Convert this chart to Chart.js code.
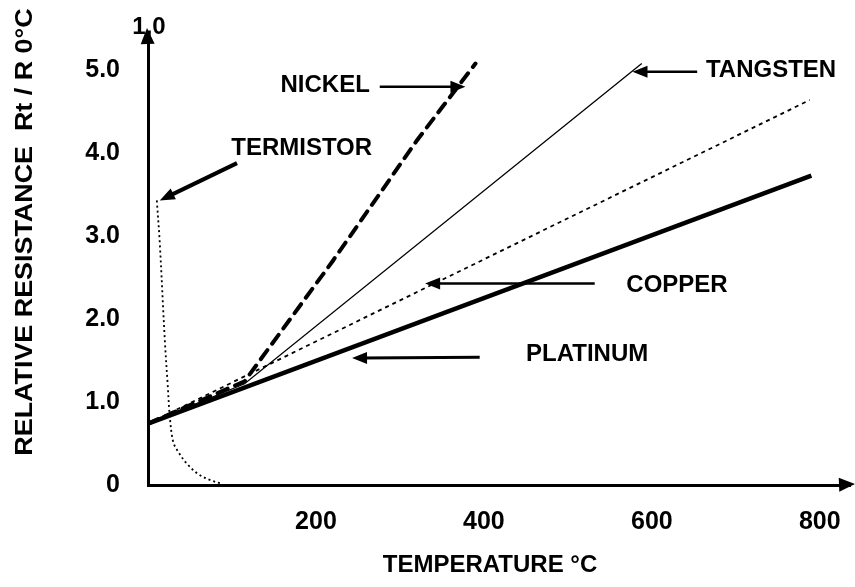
<!DOCTYPE html>
<html>
<head>
<meta charset="utf-8">
<script src="https://cdn.jsdelivr.net/npm/chart.js@4.4.0/dist/chart.umd.min.js"></script>
<style>
  body { margin: 0; background: #fff; }
</style>
</head>
<body>
<canvas id="rtChart" width="855" height="587"></canvas>
<script>
// values: temperature (°C) vs Rt / R0
const platinumT = [0, 790];
const platinumR = [0.74, 3.73];
const copperT = [0, 788];
const copperR = [0.74, 4.64];
const tangstenT = [0, 115, 588];
const tangstenR = [0.74, 1.22, 5.08];
const nickelT = [0, 115, 220, 320, 390];
const nickelR = [0.74, 1.25, 2.7, 4.15, 5.08];
const termistorT = [10.5, 14, 20, 23.5, 26, 30, 36, 46, 60, 74, 86];
const termistorR = [3.43, 2.92, 1.75, 1.2, 0.82, 0.52, 0.4, 0.26, 0.13, 0.06, 0.02];

const xTicks = [200, 400, 600, 800];
const yTicks = [0, 1, 2, 3, 4, 5];
const yTickLabels = ["0", "1.0", "2.0", "3.0", "4.0", "5.0"];

const FONT = "'Liberation Sans', Arial, sans-serif";

// callout labels with arrows, placed in data units
const callouts = [
  { text: "NICKEL",    at: [211, 4.82], from: [276, 4.80], to: [378, 4.80], w: 2.5 },
  { text: "TERMISTOR", at: [183, 4.06], from: [106, 3.88], to: [14, 3.43],  w: 4 },
  { text: "TANGSTEN",  at: [742, 5.00], from: [654, 4.98], to: [577, 4.98], w: 2.5 },
  { text: "COPPER",    at: [630, 2.41], from: [532, 2.43], to: [330, 2.43], w: 2.5 },
  { text: "PLATINUM",  at: [523, 1.58], from: [395, 1.54], to: [243, 1.53], w: 3 }
];

function pts(t, r) {
  return t.map((x, i) => ({ x: x, y: r[i] }));
}

function arrow(ctx, x1, y1, x2, y2, w, len, half) {
  const a = Math.atan2(y2 - y1, x2 - x1);
  const c = Math.cos(a), s = Math.sin(a);
  if (w > 0) {
    ctx.lineWidth = w;
    ctx.beginPath();
    ctx.moveTo(x1, y1);
    ctx.lineTo(x2 - len * 0.7 * c, y2 - len * 0.7 * s);
    ctx.stroke();
  }
  ctx.beginPath();
  ctx.moveTo(x2, y2);
  ctx.lineTo(x2 - len * c - half * s, y2 - len * s + half * c);
  ctx.lineTo(x2 - len * c + half * s, y2 - len * s - half * c);
  ctx.closePath();
  ctx.fill();
}

const drawings = {
  id: "drawings",
  afterDraw(chart) {
    const ctx = chart.ctx;
    const xs = chart.scales.x, ys = chart.scales.y;
    const area = chart.chartArea;
    ctx.save();
    ctx.fillStyle = "#000";
    ctx.strokeStyle = "#000";
    ctx.lineCap = "butt";

    // axis arrow heads
    arrow(ctx, area.left, area.top + 20, area.left - 1, area.top - 4, 0, 16, 7);
    arrow(ctx, area.right - 20, area.bottom, 855, area.bottom - 1, 0, 16, 7);

    ctx.textAlign = "center";
    ctx.textBaseline = "middle";
    ctx.font = "bold 24px " + FONT;
    ctx.fillText("1,0", area.left + 1, 27);

    callouts.forEach(c => {
      ctx.fillText(c.text, xs.getPixelForValue(c.at[0]), ys.getPixelForValue(c.at[1]));
      arrow(ctx,
        xs.getPixelForValue(c.from[0]), ys.getPixelForValue(c.from[1]),
        xs.getPixelForValue(c.to[0]), ys.getPixelForValue(c.to[1]),
        c.w, 15, 6);
    });

    // axis titles
    ctx.fillText("TEMPERATURE °C", 490, 565);
    ctx.translate(25, 232);
    ctx.rotate(-Math.PI / 2);
    ctx.scale(1.12, 1);
    ctx.fillText("RELATIVE RESISTANCE  Rt / R 0°C", 0, 0);
    ctx.restore();
  }
};

new Chart("rtChart", {
  type: "line",
  data: {
    datasets: [
      { label: "PLATINUM", data: pts(platinumT, platinumR), borderColor: "#000", borderWidth: 4.5 },
      { label: "COPPER", data: pts(copperT, copperR), borderColor: "#000", borderWidth: 1.8, borderDash: [4, 4] },
      { label: "TANGSTEN", data: pts(tangstenT, tangstenR), borderColor: "#000", borderWidth: 1.3 },
      { label: "NICKEL", data: pts(nickelT, nickelR), borderColor: "#000", borderWidth: 4, borderDash: [11, 8], borderCapStyle: "round" },
      { label: "TERMISTOR", data: pts(termistorT, termistorR), borderColor: "#000", borderWidth: 1.8, borderDash: [2, 3], tension: 0.35 }
    ]
  },
  options: {
    responsive: false,
    animation: false,
    layout: { padding: { top: 32, right: 5, left: 0, bottom: 0 } },
    elements: { point: { radius: 0 } },
    plugins: {
      legend: { display: false },
      tooltip: { enabled: false }
    },
    scales: {
      x: {
        type: "linear",
        min: 0,
        max: 836,
        afterFit: s => { s.height = 102; s.paddingLeft = 0; s.paddingRight = 0; },
        afterBuildTicks: s => { s.ticks = xTicks.map(v => ({ value: v })); },
        grid: { display: false, drawTicks: false },
        border: { display: true, color: "#000", width: 3 },
        ticks: { color: "#000", font: { family: FONT, size: 25, weight: "bold" }, padding: 22, maxRotation: 0 }
      },
      y: {
        type: "linear",
        min: 0,
        max: 5.46,
        afterFit: s => { s.width = 148; s.paddingTop = 0; s.paddingBottom = 0; },
        afterBuildTicks: s => { s.ticks = yTicks.map(v => ({ value: v })); },
        grid: { display: false, drawTicks: false },
        border: { display: true, color: "#000", width: 3 },
        ticks: {
          color: "#000",
          font: { family: FONT, size: 25, weight: "bold" },
          padding: 28,
          callback: (v, i) => yTickLabels[i]
        }
      }
    }
  },
  plugins: [drawings]
});
</script>
</body>
</html>
